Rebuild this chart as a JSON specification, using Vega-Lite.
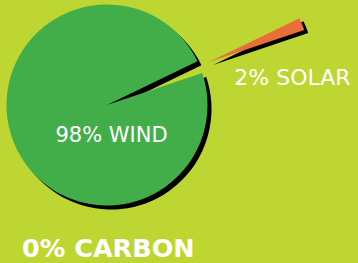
{
  "$schema": "https://vega.github.io/schema/vega-lite/v6.json",
  "width": 214,
  "height": 210,
  "autosize": {"type": "none"},
  "padding": {"left": 0, "top": 0, "right": 144, "bottom": 53},
  "background": "#bdd631",
  "config": {"view": {"stroke": null}},
  "data": {
    "values": [
      {"source": "Solar", "share": 2, "order": 1, "label": "2% SOLAR"},
      {"source": "Wind", "share": 98, "order": 2, "label": "98% WIND"},
      {"source": "Carbon", "share": 0, "order": 3, "label": "0% CARBON"}
    ]
  },
  "transform": [
    {"stack": "share", "groupby": [], "sort": [{"field": "order", "order": "ascending"}], "as": ["s0", "s1"]}
  ],
  "layer": [
    {
      "transform": [{"filter": "datum.source === 'Wind'"}],
      "mark": {"type": "arc", "radius": 100.5, "fill": "#000000", "xOffset": 4, "yOffset": 4},
      "encoding": {
        "theta": {"field": "s0", "type": "quantitative", "scale": {"domain": [0, 100], "range": [1.12, 7.4032]}},
        "theta2": {"field": "s1"}
      }
    },
    {
      "transform": [{"filter": "datum.source === 'Wind'"}],
      "mark": {"type": "arc", "radius": 100.5, "fill": "#42ae4a"},
      "encoding": {
        "theta": {"field": "s0", "type": "quantitative", "scale": {"domain": [0, 100], "range": [1.12, 7.4032]}},
        "theta2": {"field": "s1"}
      }
    },
    {
      "transform": [{"filter": "datum.source === 'Solar'"}],
      "mark": {"type": "arc", "radius": 100.5, "fill": "#000000", "xOffset": 106, "yOffset": -40},
      "encoding": {
        "theta": {"field": "s0", "type": "quantitative", "scale": {"domain": [0, 100], "range": [1.12, 7.4032]}},
        "theta2": {"field": "s1"}
      }
    },
    {
      "transform": [{"filter": "datum.source === 'Solar'"}],
      "mark": {"type": "arc", "radius": 100.5, "fill": "#e96f38", "xOffset": 102, "yOffset": -43},
      "encoding": {
        "theta": {"field": "s0", "type": "quantitative", "scale": {"domain": [0, 100], "range": [1.12, 7.4032]}},
        "theta2": {"field": "s1"}
      }
    },
    {
      "transform": [{"filter": "datum.source === 'Wind'"}],
      "mark": {"type": "text", "font": "DejaVu Sans", "fontSize": 21, "fill": "#ffffff", "align": "center", "baseline": "alphabetic", "dx": 4.5, "dy": 37},
      "encoding": {"text": {"field": "label"}}
    },
    {
      "transform": [{"filter": "datum.source === 'Solar'"}],
      "mark": {"type": "text", "font": "DejaVu Sans", "fontSize": 22, "fill": "#ffffff", "align": "center", "baseline": "alphabetic", "dx": 185.5, "dy": -20},
      "encoding": {"text": {"field": "label"}}
    },
    {
      "transform": [{"filter": "datum.source === 'Carbon'"}],
      "mark": {"type": "text", "font": "DejaVu Sans", "fontWeight": "bold", "fontSize": 25.5, "fill": "#ffffff", "align": "left", "baseline": "alphabetic", "dx": -85, "dy": 152},
      "encoding": {"text": {"field": "label"}}
    }
  ]
}
